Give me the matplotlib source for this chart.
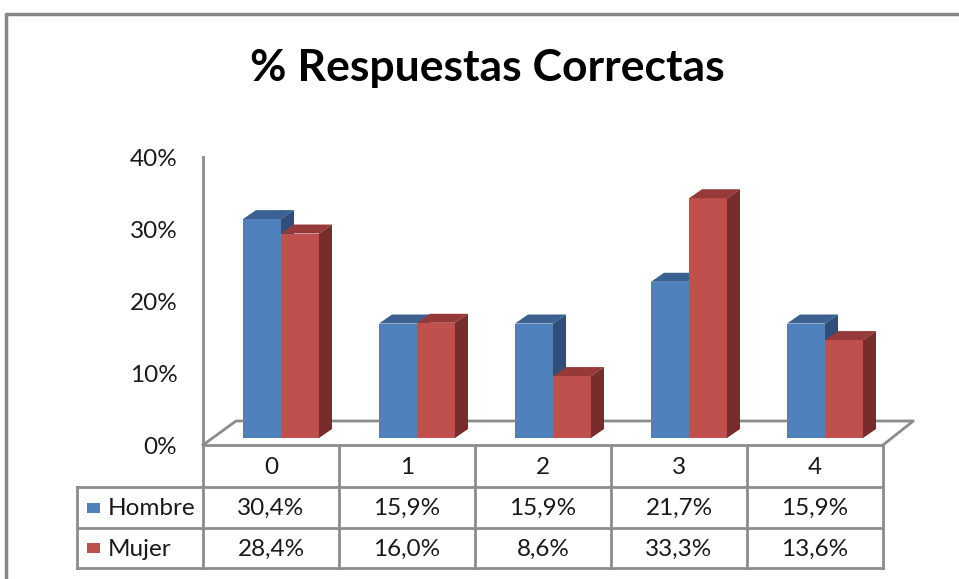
import numpy as np
import matplotlib
matplotlib.use('Agg')
import matplotlib.pyplot as plt
from matplotlib.patches import Polygon, Rectangle

plt.rcParams['font.family'] = ['Lato', 'DejaVu Sans']

# datos
categorias = ['0', '1', '2', '3', '4']
hombre = [30.4, 15.9, 15.9, 21.7, 15.9]
mujer = [28.4, 16.0, 8.6, 33.3, 13.6]
series = ['Hombre', 'Mujer']
yticks = [0, 10, 20, 30, 40]

c_front = ['#4F81BD', '#C0504D']
c_top = ['#3A6192', '#953A38']
c_side = ['#2F4F78', '#772D2B']
gris = '#8C8C8C'
texto = '#1a1a1a'
fs = 17.5

W, H = 959, 579
fig = plt.figure(figsize=(W / 100, H / 100), dpi=100)

# capa de maquetacion en pixeles
lay = fig.add_axes([0, 0, 1, 1])
lay.set_xlim(0, W)
lay.set_ylim(H, 0)
lay.axis('off')

# marco exterior
lay.plot([6, 6, W], [H, 14, 14], color='#878787', lw=2.5, solid_capstyle='butt')

lay.text(487, 68, '% Respuestas Correctas', ha='center', va='center',
         fontsize=32, fontweight='bold', color='black')

# area del grafico (plano frontal)
x0, x1, yb, yt = 203, 883, 445, 157
ax = fig.add_axes([x0 / W, 1 - yb / H, (x1 - x0) / W, (yb - yt) / H])
ax.set_xlim(-0.5, len(categorias) - 0.5)
ax.set_ylim(0, 40)
ax.patch.set_alpha(0)
for s in ['top', 'right', 'bottom']:
    ax.spines[s].set_visible(False)
ax.spines['left'].set_color(gris)
ax.spines['left'].set_linewidth(2)
ax.set_xticks([])
ax.set_yticks(yticks)
ax.set_yticklabels([f'{v}%' for v in yticks], fontsize=fs, color=texto)
ax.tick_params(axis='y', length=0, pad=18.5)

px_x = (x1 - x0) / len(categorias)   # px por categoria
px_y = (yb - yt) / 40.0              # px por punto porcentual

# suelo
fdx, fdy = 33 / px_x, 24 / px_y
n = len(categorias)
ax.plot([-0.5, -0.5 + fdx, n - 0.5 + fdx - 0.02, n - 0.5],
        [0, fdy, fdy, 0], color=gris, lw=2, clip_on=False, zorder=1)

# barras 3D
sdx, sdy = 10 / px_x, 7 / px_y   # desplazamiento de la cara frontal
bdx, bdy = 13 / px_x, 9 / px_y   # profundidad de la barra
bw = 38 / px_x
x = np.arange(n)
for k, vals in enumerate([hombre, mujer]):
    left = x + sdx - bw + k * bw
    ax.bar(left, vals, width=bw, bottom=sdy, align='edge', color=c_front[k],
           edgecolor='none', zorder=2 + k, clip_on=False)
    for xl, v in zip(left, vals):
        top = sdy + v
        ax.add_patch(Polygon([(xl, top), (xl + bdx, top + bdy), (xl + bw + bdx, top + bdy),
                              (xl + bw, top)], closed=True, color=c_top[k],
                             lw=0, zorder=2 + k, clip_on=False))
        ax.add_patch(Polygon([(xl + bw, sdy), (xl + bw + bdx, sdy + bdy),
                              (xl + bw + bdx, top + bdy), (xl + bw, top)], closed=True,
                             color=c_side[k], lw=0, zorder=2 + k, clip_on=False))

# tabla de datos
rows = [445, 487, 528, 568]
cols = [x0 + i * px_x for i in range(n + 1)]
lx = 77
lay.plot([x0, x1], [rows[0], rows[0]], color=gris, lw=2)
for r in rows[1:]:
    lay.plot([lx, x1], [r, r], color=gris, lw=2)
for c in cols:
    lay.plot([c, c], [rows[0], rows[-1]], color=gris, lw=2)
lay.plot([lx, lx], [rows[1], rows[-1]], color=gris, lw=2)

for i, cat in enumerate(categorias):
    cx = (cols[i] + cols[i + 1]) / 2
    lay.text(cx, (rows[0] + rows[1]) / 2 + 1, cat, ha='center', va='center',
             fontsize=fs, color=texto)
    for j, vals in enumerate([hombre, mujer]):
        lay.text(cx, (rows[j + 1] + rows[j + 2]) / 2 + 1,
                 f'{vals[i]:.1f}%'.replace('.', ','), ha='center', va='center',
                 fontsize=fs, color=texto)

for j, nombre in enumerate(series):
    cy = (rows[j + 1] + rows[j + 2]) / 2
    lay.add_patch(Rectangle((87, cy - 5), 13, 10, color=c_front[j], lw=0))
    lay.text(108, cy + 1, nombre, ha='left', va='center', fontsize=fs, color=texto)

fig.savefig('out.png', dpi=100)
